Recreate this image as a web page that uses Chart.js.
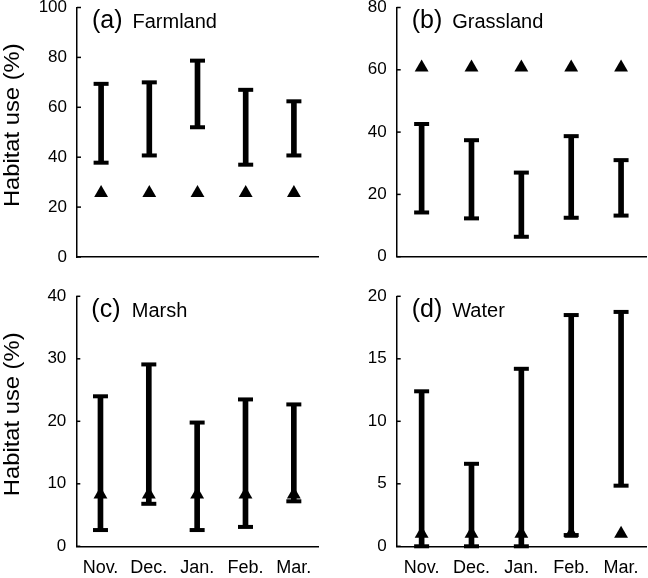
<!DOCTYPE html>
<html>
<head>
<meta charset="utf-8">
<script src="https://cdn.jsdelivr.net/npm/chart.js@4.4.0/dist/chart.umd.min.js"></script>
<style>
  html, body { margin: 0; padding: 0; background: #fff; }
  #wrap { position: relative; width: 648px; height: 578px; }
  canvas { position: absolute; }
</style>
</head>
<body>
<div id="wrap">
  <canvas id="pa" width="324" height="289" style="left:0;top:0"></canvas>
  <canvas id="pb" width="324" height="289" style="left:324px;top:0"></canvas>
  <canvas id="pc" width="324" height="298" style="left:0;top:280px"></canvas>
  <canvas id="pd" width="324" height="298" style="left:324px;top:280px"></canvas>
</div>
<script>
// months
const months = ['Nov.', 'Dec.', 'Jan.', 'Feb.', 'Mar.'];

// habitat use range (low / high) and availability (triangles), in %
const farmLow = [37.8, 40.7, 52.0, 37.0, 40.7];
const farmHigh = [69.4, 70.0, 78.7, 67.0, 62.4];
const farmAvail = [25.7, 25.7, 25.7, 25.7, 25.7];

const grassLow = [14.2, 12.3, 6.4, 12.5, 13.2];
const grassHigh = [42.6, 37.4, 27.0, 38.7, 31.0];
const grassAvail = [60.7, 60.7, 60.7, 60.7, 60.7];

const marshLow = [2.6, 6.8, 2.6, 3.1, 7.2];
const marshHigh = [24.0, 29.1, 19.8, 23.5, 22.7];
const marshAvail = [8.3, 8.3, 8.3, 8.3, 8.3];

const waterLow = [0, 0, 0, 0.9, 4.85];
const waterHigh = [12.4, 6.6, 14.2, 18.5, 18.75];
const waterAvail = [1.0, 1.0, 1.0, 1.0, 1.0];

// y axis limits and steps
const yMax = [100, 80, 40, 20];
const yStep = [20, 20, 10, 5];

const panelTags = ['(a)', '(b)', '(c)', '(d)'];
const panelNames = ['Farmland', 'Grassland', 'Marsh', 'Water'];
const yTitleText = 'Habitat use (%)';

const FONT = "'Liberation Sans', Arial, sans-serif";

// inward tick marks on the y axis, panel label and y title
const panelPlugin = {
  id: 'panelDecor',
  afterDraw(chart, args, opts) {
    const ctx = chart.ctx;
    const area = chart.chartArea;
    const ys = chart.scales.y;
    ctx.save();
    ctx.strokeStyle = '#000';
    ctx.lineWidth = 1.5;
    ys.ticks.forEach(t => {
      const py = ys.getPixelForValue(t.value);
      ctx.beginPath();
      ctx.moveTo(area.left, py);
      ctx.lineTo(area.left + 4, py);
      ctx.stroke();
    });
    ctx.fillStyle = '#000';
    ctx.textBaseline = 'alphabetic';
    ctx.textAlign = 'left';
    ctx.font = '25px ' + FONT;
    ctx.fillText(opts.tag, area.left + 15, area.top + opts.dy);
    ctx.font = '20px ' + FONT;
    ctx.fillText(opts.name, area.left + 55.5, area.top + opts.dy);

    if (opts.yTitle) {
      ctx.translate(12.5, (area.top + area.bottom) / 2 - 7);
      ctx.rotate(-Math.PI / 2);
      ctx.scale(1.08, 1);
      ctx.textAlign = 'center';
      ctx.textBaseline = 'middle';
      ctx.font = '22px ' + FONT;
      ctx.fillText(yTitleText, 0, 0);
    }
    ctx.restore();
  }
};

function noPad(s) {
  s.paddingTop = 0;
  s.paddingBottom = 0;
  s.paddingLeft = 0;
  s.paddingRight = 0;
}

function makePanel(id, idx, low, high, avail, box) {
  const ranges = low.map((v, i) => [v, high[i]]);
  new Chart(document.getElementById(id), {
    type: 'bar',
    data: {
      labels: months,
      datasets: [
        {
          type: 'line',
          data: avail,
          showLine: false,
          pointStyle: 'triangle',
          pointRadius: 8,
          pointBackgroundColor: '#000',
          pointBorderWidth: 0,
          clip: false,
          order: 1
        },
        {
          type: 'line',
          data: low,
          showLine: false,
          pointStyle: 'line',
          pointRadius: 7.5,
          pointBorderColor: '#000',
          pointBorderWidth: 4,
          clip: false,
          order: 2
        },
        {
          type: 'line',
          data: high,
          showLine: false,
          pointStyle: 'line',
          pointRadius: 7.5,
          pointBorderColor: '#000',
          pointBorderWidth: 4,
          clip: false,
          order: 2
        },
        {
          data: ranges,
          backgroundColor: '#000',
          barThickness: 5,
          borderWidth: 0,
          order: 3
        }
      ]
    },
    options: {
      responsive: false,
      animation: false,
      events: [],
      layout: {
        autoPadding: false,
        padding: { top: box.top, right: box.right, left: 0, bottom: 0 }
      },
      plugins: {
        legend: { display: false },
        tooltip: { enabled: false },
        panelDecor: { tag: panelTags[idx], name: panelNames[idx], dy: box.dy, yTitle: box.yTitle }
      },
      scales: {
        x: {
          offset: true,
          grid: { display: false, drawTicks: false },
          border: { display: true, color: '#000', width: 1.5 },
          ticks: {
            display: box.xLabels,
            autoSkip: false,
            maxRotation: 0,
            color: '#000',
            padding: 11,
            font: { family: FONT, size: 18 }
          },
          afterFit: s => { s.height = box.bottom; noPad(s); }
        },
        y: {
          min: 0,
          max: yMax[idx],
          grid: { display: false, drawTicks: false },
          border: { display: true, color: '#000', width: 1.5 },
          ticks: {
            stepSize: yStep[idx],
            color: '#000',
            padding: 10,
            font: { family: FONT, size: 17 }
          },
          afterFit: s => { s.width = box.left; noPad(s); }
        }
      }
    },
    plugins: [panelPlugin]
  });
}

makePanel('pa', 0, farmLow, farmHigh, farmAvail,
  { left: 77, right: 6, top: 7.5, bottom: 32, dy: 20, xLabels: false, yTitle: true });
makePanel('pb', 1, grassLow, grassHigh, grassAvail,
  { left: 72.7, right: 2, top: 7.5, bottom: 32.3, dy: 20, xLabels: false, yTitle: false });
makePanel('pc', 2, marshLow, marshHigh, marshAvail,
  { left: 76.3, right: 6, top: 16.3, bottom: 31.7, dy: 21, xLabels: true, yTitle: true });
makePanel('pd', 3, waterLow, waterHigh, waterAvail,
  { left: 72.7, right: 2, top: 16.3, bottom: 31.7, dy: 21, xLabels: true, yTitle: false });
</script>
</body>
</html>
